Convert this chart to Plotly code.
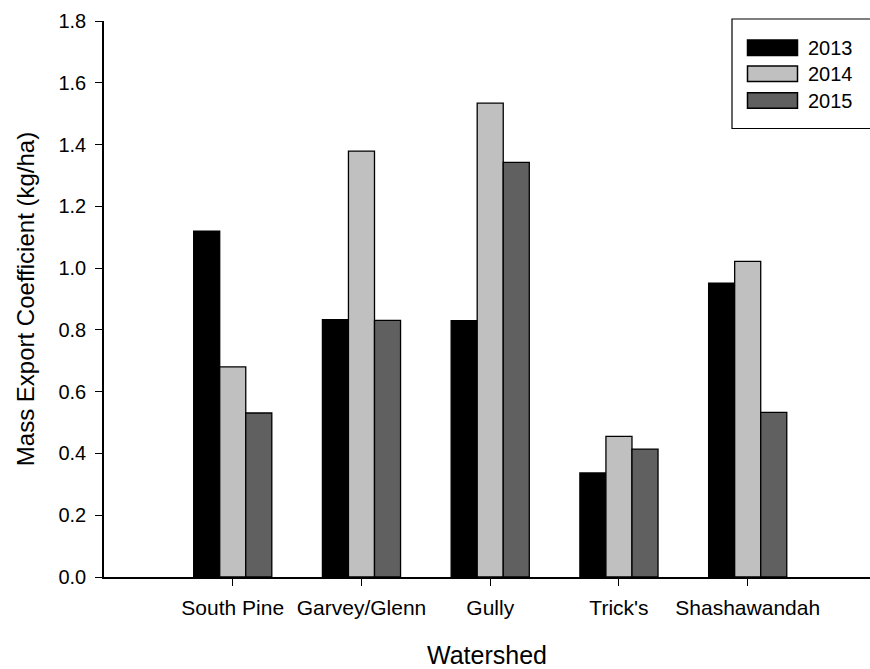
import plotly.graph_objects as go

categories = ["South Pine", "Garvey/Glenn", "Gully", "Trick's", "Shashawandah"]
years = ["2013", "2014", "2015"]
values_2013 = [1.120, 0.833, 0.830, 0.337, 0.951]
values_2014 = [0.680, 1.379, 1.534, 0.455, 1.022]
values_2015 = [0.531, 0.831, 1.342, 0.414, 0.533]
colors = ["#000000", "#c0c0c0", "#606060"]

series = [values_2013, values_2014, values_2015]
FONT = "Liberation Sans, Arial, sans-serif"

W, H = 870, 669
ML, MR, MT, MB = 104, 0, 21, 92
pw = W - ML - MR
ph = H - MT - MB

def px_x(px):
    return (px - ML) / pw

def px_y(py):
    return (H - MB - py) / ph

fig = go.Figure()
xs = list(range(len(categories)))
for name, vals, col in zip(years, series, colors):
    fig.add_trace(go.Bar(
        x=xs, y=vals, name=name, showlegend=False,
        marker=dict(color=col, line=dict(color="#000000", width=1.3)),
    ))

shapes = []
annotations = []
# legend box
shapes.append(dict(type="rect", xref="paper", yref="paper",
                   x0=px_x(732), x1=px_x(900), y0=px_y(128.5), y1=px_y(19),
                   line=dict(color="#000000", width=1.2), fillcolor="rgba(0,0,0,0)"))
row_centers = [47.7, 73.8, 100.5]
for name, col, cy in zip(years, colors, row_centers):
    shapes.append(dict(type="rect", xref="paper", yref="paper",
                       x0=px_x(747.5), x1=px_x(797.5), y0=px_y(cy + 7.8), y1=px_y(cy - 7.8),
                       line=dict(color="#000000", width=1.5), fillcolor=col))
    annotations.append(dict(xref="paper", yref="paper", x=px_x(806), y=px_y(cy),
                            text=name, showarrow=False, xanchor="left", yanchor="middle",
                            font=dict(family=FONT, size=20, color="#000000")))

fig.update_layout(
    width=W, height=H,
    margin=dict(l=ML, r=MR, t=MT, b=MB),
    paper_bgcolor="white", plot_bgcolor="white",
    barmode="group", bargap=0.393, bargroupgap=0,
    font=dict(family=FONT, size=20, color="#000000"),
    shapes=shapes, annotations=annotations,
    xaxis=dict(
        range=[-1, 4.95], tickmode="array", tickvals=xs, ticktext=categories,
        showline=True, linecolor="#000000", linewidth=1.5,
        ticks="outside", ticklen=7, tickwidth=1.2, tickcolor="#000000",
        showgrid=False, zeroline=False, ticklabelstandoff=4,
        tickfont=dict(family=FONT, size=21),
        title=dict(text="Watershed", font=dict(family=FONT, size=25), standoff=29),
    ),
    yaxis=dict(
        range=[0, 1.8], dtick=0.2, tick0=0, tickformat=".1f",
        showline=True, linecolor="#000000", linewidth=1.5,
        ticks="outside", ticklen=7, tickwidth=1.2, tickcolor="#000000",
        showgrid=False, zeroline=False, ticklabelstandoff=5,
        tickfont=dict(family=FONT, size=20),
        title=dict(text="Mass Export Coefficient (kg/ha)", font=dict(family=FONT, size=24), standoff=17),
    ),
)

fig.write_html("out.html", config={"displayModeBar": False},
               post_script="document.body.style.margin='0';document.body.style.overflow='hidden';")
